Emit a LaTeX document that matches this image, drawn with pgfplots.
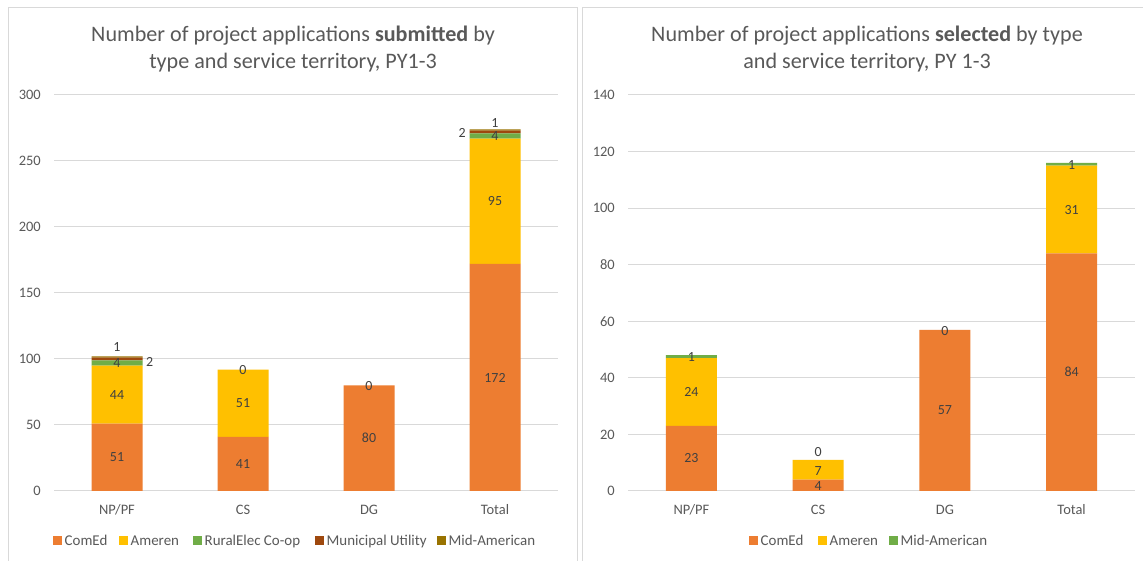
\documentclass[border=0pt]{standalone}
\usepackage{pgfplots}
\pgfplotsset{compat=1.18}
\usepackage{fontspec}
\setmainfont{Carlito}
\definecolor{comed}{HTML}{ED7D31}
\definecolor{ameren}{HTML}{FFC000}
\definecolor{rural}{HTML}{70AD47}
\definecolor{muni}{HTML}{9E480E}
\definecolor{midam}{HTML}{997300}
\definecolor{txt}{HTML}{595959}
\definecolor{lbl}{HTML}{404040}
\definecolor{gridc}{HTML}{D9D9D9}
\definecolor{framec}{HTML}{D9D9D9}
\pgfplotsset{
  panel/.style={
    scale only axis, ybar stacked, bar width=51bp,
    xmin=-0.5, xmax=3.5, ymin=0,
    xtick={0,1,2,3}, xticklabels={NP/PF,CS,DG,Total},
    axis line style={draw=none}, major tick length=0pt,
    ymajorgrids, grid style={gridc, line width=1bp},
    ticklabel style={font=\fontsize{14.5}{16}\selectfont, text=txt},
    yticklabel style={inner sep=0pt, xshift=-13bp},
    xticklabel style={inner sep=0pt, anchor=base, yshift=-24bp},
    /pgf/number format/assume math mode=true,
  },
}
\tikzset{dl/.style={font=\fontsize{14}{15}\selectfont, text=lbl, inner sep=0pt},
  lg/.style={font=\fontsize{15}{16}\selectfont, text=txt, inner sep=0pt, anchor=base west}}
\newcommand\legentry[3]{% x of square, colour, text
  \fill[#2] (#1bp,15.5bp) rectangle ++(9bp,9bp);
  \node[lg] at ({#1bp+11.5bp},15.3bp) {#3};}
\begin{document}
\begin{tikzpicture}
\useasboundingbox (0,0) rectangle (1143bp,561bp);
\fill[white] (0,0) rectangle (1143bp,561bp);
\draw[framec, line width=1bp] (8bp,0) -- (8bp,553bp) -- (577bp,553bp) -- (577bp,0);
\draw[framec, line width=1bp] (582bp,0) -- (582bp,553bp) -- (1143bp,553bp);
\node[text=txt, font=\fontsize{22.2}{25}\selectfont, anchor=base] at (293bp,519bp) {Number of project applications \textbf{submitted} by};
\node[text=txt, font=\fontsize{22.2}{25}\selectfont, anchor=base] at (293bp,492bp) {type and service territory, PY1-3};
\node[text=txt, font=\fontsize{22.2}{25}\selectfont, anchor=base] at (867bp,519bp) {Number of project applications \textbf{selected} by type};
\node[text=txt, font=\fontsize{22.2}{25}\selectfont, anchor=base] at (867bp,492bp) {and service territory, PY 1-3};

\begin{axis}[panel, at={(54bp,70bp)}, anchor=south west, width=504bp, height=396bp,
  ymax=300, ytick={0,50,...,300},
  after end axis/.code={
    \node[dl] at (axis cs:0,25.5) {51};
    \node[dl] at (axis cs:0,73) {44};
    \node[dl] at (axis cs:0,97) {4};
    \node[dl] at (axis cs:0.26,98) {2};
    \node[dl] at (axis cs:0,109) {1};
    \node[dl] at (axis cs:1,20.5) {41};
    \node[dl] at (axis cs:1,66.5) {51};
    \node[dl] at (axis cs:1,91.5) {0};
    \node[dl] at (axis cs:2,40) {80};
    \node[dl] at (axis cs:2,79.5) {0};
    \node[dl] at (axis cs:3,86) {172};
    \node[dl] at (axis cs:3,219.5) {95};
    \node[dl] at (axis cs:3,269) {4};
    \node[dl] at (axis cs:2.74,271) {2};
    \node[dl] at (axis cs:3,279) {1};
  }]
\addplot[fill=comed, draw=none] coordinates {(0,51) (1,41) (2,80) (3,172)};
\addplot[fill=ameren, draw=none] coordinates {(0,44) (1,51) (2,0) (3,95)};
\addplot[fill=rural, draw=none] coordinates {(0,4) (1,0) (2,0) (3,4)};
\addplot[fill=muni, draw=none] coordinates {(0,2) (1,0) (2,0) (3,2)};
\addplot[fill=midam, draw=none] coordinates {(0,1) (1,0) (2,0) (3,1)};
\end{axis}

\begin{axis}[panel, at={(628bp,70bp)}, anchor=south west, width=507bp, height=396bp,
  ymax=140, ytick={0,20,...,140},
  after end axis/.code={
    \node[dl] at (axis cs:0,11.5) {23};
    \node[dl] at (axis cs:0,35) {24};
    \node[dl] at (axis cs:0,47.3) {1};
    \node[dl] at (axis cs:1,1.6) {4};
    \node[dl] at (axis cs:1,6.9) {7};
    \node[dl] at (axis cs:1,13.8) {0};
    \node[dl] at (axis cs:2,28.5) {57};
    \node[dl] at (axis cs:2,56.5) {0};
    \node[dl] at (axis cs:3,42) {84};
    \node[dl] at (axis cs:3,99.5) {31};
    \node[dl] at (axis cs:3,115.3) {1};
  }]
\addplot[fill=comed, draw=none] coordinates {(0,23) (1,4) (2,57) (3,84)};
\addplot[fill=ameren, draw=none] coordinates {(0,24) (1,7) (2,0) (3,31)};
\addplot[fill=rural, draw=none] coordinates {(0,1) (1,0) (2,0) (3,1)};
\end{axis}

\legentry{53}{comed}{ComEd}
\legentry{119}{ameren}{Ameren}
\legentry{193}{rural}{RuralElec Co-op}
\legentry{315}{muni}{Municipal Utility}
\legentry{437}{midam}{Mid-American}
\legentry{749}{comed}{ComEd}
\legentry{818}{ameren}{Ameren}
\legentry{889}{rural}{Mid-American}
\end{tikzpicture}
\end{document}
